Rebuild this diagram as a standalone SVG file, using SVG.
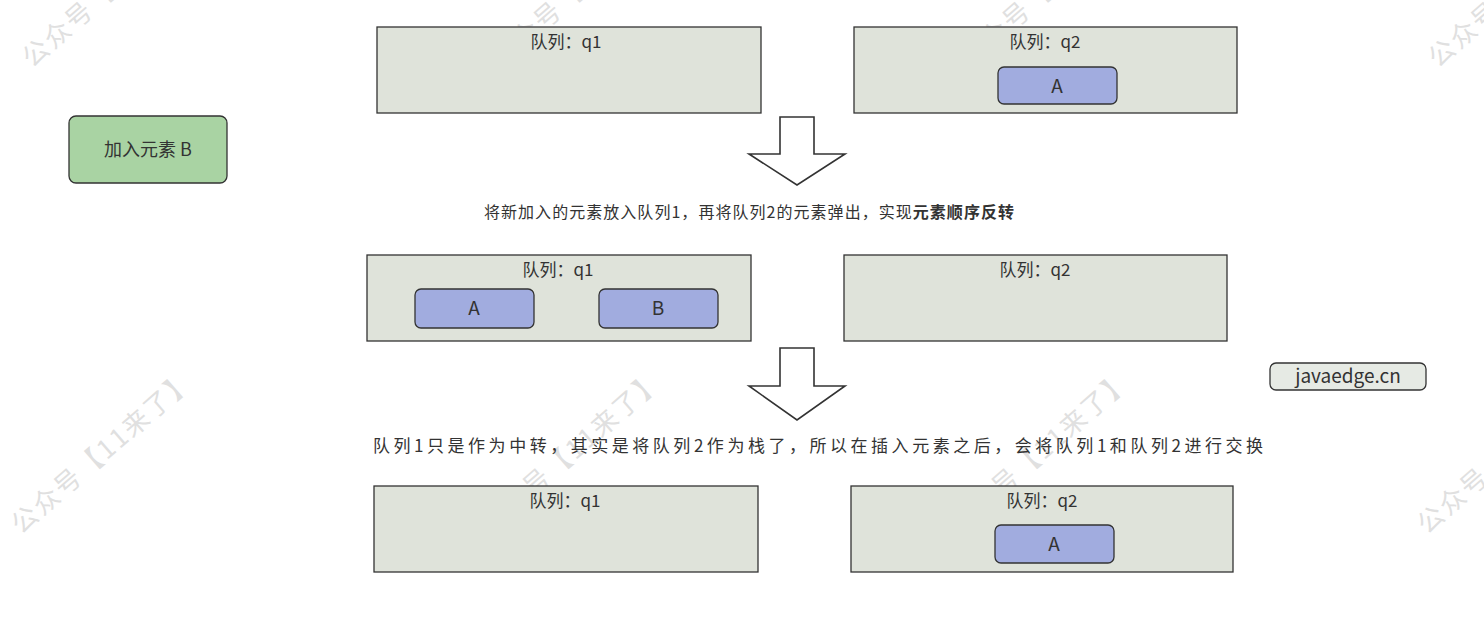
<svg xmlns="http://www.w3.org/2000/svg" width="1484" height="632" viewBox="0 0 1484 632">
<style>
text{font-family:"Noto Sans CJK SC","Noto Sans",sans-serif;fill:#333333}
.wm{font-size:26px;fill:#e0e0e0}
.queue{fill:#dfe3da;stroke:#333333;stroke-width:1.3}
.item{fill:#a1acdf;stroke:#333333;stroke-width:1.3}
.title{font-size:17px;text-anchor:middle}
.lbl{font-size:19px;text-anchor:middle}
.cap{font-size:16px}
.arrow{fill:#ffffff;stroke:#333333;stroke-width:1.6;stroke-linejoin:miter}
</style>
<rect width="1484" height="632" fill="#ffffff"/>
<g id="watermarks">
<text class="wm" transform="translate(32,68.5) rotate(-41)" textLength="230" lengthAdjust="spacing">公众号【11来了】</text>
<text class="wm" transform="translate(500.7,68.5) rotate(-41)" textLength="230" lengthAdjust="spacing">公众号【11来了】</text>
<text class="wm" transform="translate(969.3,68.5) rotate(-41)" textLength="230" lengthAdjust="spacing">公众号【11来了】</text>
<text class="wm" transform="translate(1438,68.5) rotate(-41)" textLength="230" lengthAdjust="spacing">公众号【11来了】</text>
<text class="wm" transform="translate(21,535) rotate(-41)" textLength="230" lengthAdjust="spacing">公众号【11来了】</text>
<text class="wm" transform="translate(489.7,535) rotate(-41)" textLength="230" lengthAdjust="spacing">公众号【11来了】</text>
<text class="wm" transform="translate(958.3,535) rotate(-41)" textLength="230" lengthAdjust="spacing">公众号【11来了】</text>
<text class="wm" transform="translate(1427,535) rotate(-41)" textLength="230" lengthAdjust="spacing">公众号【11来了】</text>
</g>
<g id="add-b">
<rect x="69" y="116" width="158" height="67" rx="7" fill="#a9d3a3" stroke="#333333" stroke-width="1.3"/>
<text x="148" y="156" font-size="18" text-anchor="middle">加入元素 B</text>
</g>
<g id="q1-step1">
<rect class="queue" x="377" y="27" width="384" height="86"/>
<text class="title" x="566" y="48">队列：q1</text>
</g>
<g id="q2-step1">
<rect class="queue" x="854" y="27" width="383" height="86"/>
<text class="title" x="1045" y="48">队列：q2</text>
<rect class="item" x="998" y="67" width="119" height="37" rx="6"/>
<text class="lbl" x="1057" y="93">A</text>
</g>
<g id="caption1">
<text class="cap" x="484" y="218" textLength="530" lengthAdjust="spacing">将新加入的元素放入队列1，再将队列2的元素弹出，实现<tspan font-weight="bold">元素顺序反转</tspan></text>
</g>
<g id="q1-step2">
<rect class="queue" x="367" y="255" width="384" height="86"/>
<text class="title" x="558" y="276">队列：q1</text>
<rect class="item" x="415" y="289" width="119" height="39" rx="6"/>
<text class="lbl" x="474" y="315">A</text>
<rect class="item" x="599" y="289" width="119" height="39" rx="6"/>
<text class="lbl" x="658" y="315">B</text>
</g>
<g id="q2-step2">
<rect class="queue" x="844" y="255" width="383" height="86"/>
<text class="title" x="1035" y="276">队列：q2</text>
</g>
<g id="javaedge">
<rect x="1270" y="363" width="156" height="27" rx="6" fill="#e6eae4" stroke="#333333" stroke-width="1.3"/>
<text x="1348" y="382.5" font-size="19" text-anchor="middle">javaedge.cn</text>
</g>
<g id="caption2">
<text x="373" y="452" font-size="17" textLength="890" lengthAdjust="spacing">队列1只是作为中转，其实是将队列2作为栈了，所以在插入元素之后，会将队列1和队列2进行交换</text>
</g>
<g id="q1-step3">
<rect class="queue" x="374" y="486" width="384" height="86"/>
<text class="title" x="565" y="507">队列：q1</text>
</g>
<g id="q2-step3">
<rect class="queue" x="851" y="486" width="382" height="86"/>
<text class="title" x="1042" y="507">队列：q2</text>
<rect class="item" x="995" y="525" width="119" height="38" rx="6"/>
<text class="lbl" x="1054" y="551">A</text>
</g>
<g id="connectors">
<path class="arrow" d="M780,117 H814 V154 H845 L797,185 L749,154 H780 Z"/>
<path class="arrow" d="M780,348 H814 V386 H845 L797,420 L749,386 H780 Z"/>
</g>
</svg>
